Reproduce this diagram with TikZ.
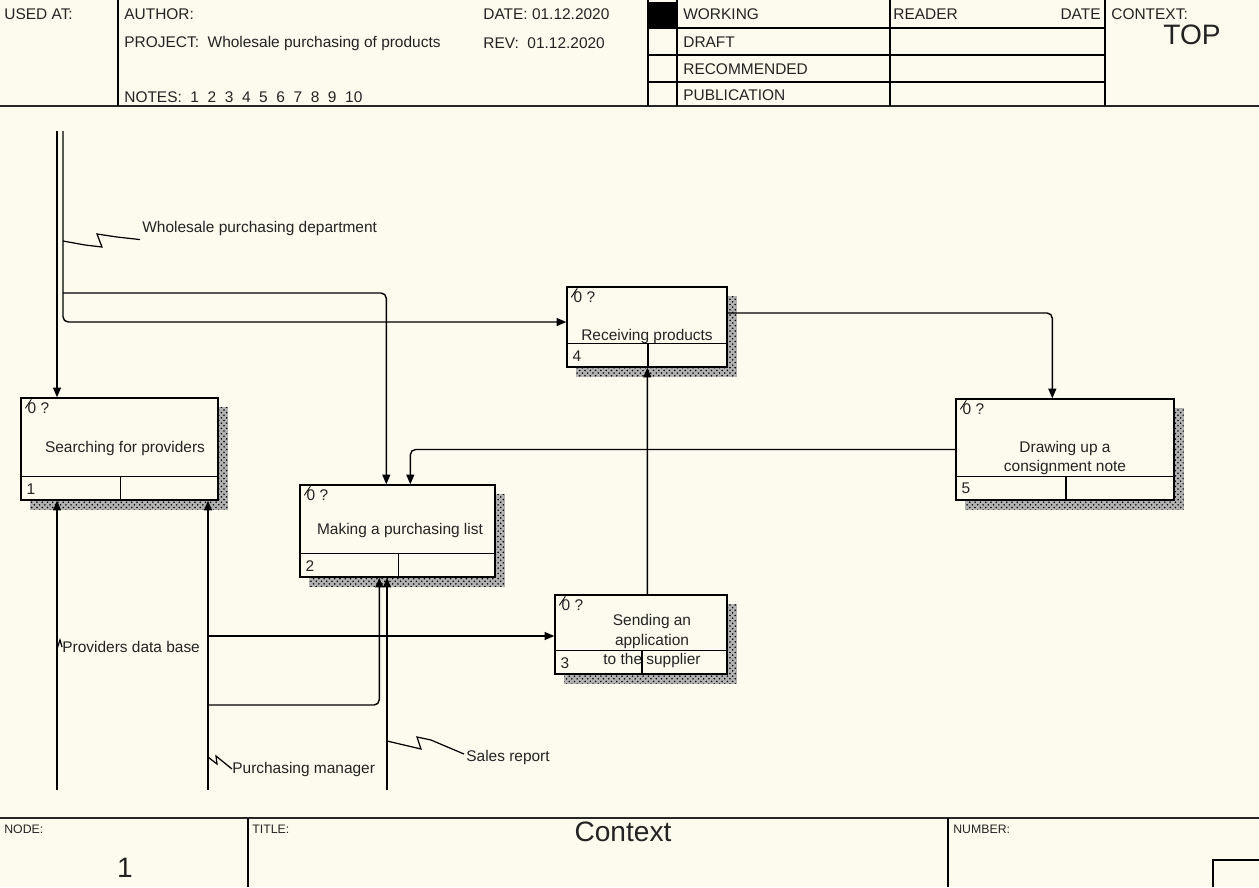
\documentclass[tikz,border=0pt]{standalone}
\usepackage{fontspec}
\setmainfont{Liberation Sans}
\usetikzlibrary{arrows.meta,patterns,calc}

\definecolor{paper}{RGB}{253,251,238}
\definecolor{ink}{RGB}{35,35,35}

\tikzset{
  every node/.style={font=\fontsize{8.8}{11}\selectfont, text=ink, inner sep=0pt},
  actbox/.style={draw, line width=0.8pt, fill=paper},
  shadow/.style={preaction={fill=black!30}, pattern=crosshatch dots, pattern color=black},
  frame/.style={line width=0.8pt},
  heavy/.style={line width=1.3pt, black!85},
  wire/.style={line width=0.8pt, rounded corners=3pt},
  flow/.style={wire, -{Triangle[length=5.5pt,width=4.5pt]}},
  squig/.style={line width=0.7pt},
  big/.style={font=\fontsize{16}{19}\selectfont},
  tiny/.style={font=\fontsize{7}{8}\selectfont},
}

\begin{document}
\begin{tikzpicture}[x=0.02cm, y=-0.02cm]
\useasboundingbox[fill=paper] (0,0) rectangle (1259,887);

% header frame
\draw[heavy] (0,106) -- (1259,106);
\draw[frame] (118,0) -- (118,106);
\draw[frame] (648,0) -- (648,106);
\draw[frame] (677,0) -- (677,106);
\draw[frame] (890,0) -- (890,106);
\draw[frame] (1105,0) -- (1105,106);
\foreach \y in {28,55,82}
  \draw[frame] (648,\y) -- (1105,\y);
\fill[black] (648,2) rectangle (677,28);

\node[anchor=west] (usedat) at (4,14) {USED AT:};
\node[anchor=west] (author) at (124,14) {AUTHOR:};
\node[anchor=west] (project) at (124,43) {PROJECT:\ \ Wholesale purchasing of products};
\node[anchor=west] (notes) at (124,97) {NOTES:\ \ 1\ \ 2\ \ 3\ \ 4\ \ 5\ \ 6\ \ 7\ \ 8\ \ 9\ \ 10};
\node[anchor=west] (date) at (483,14) {DATE: 01.12.2020};
\node[anchor=west] (rev) at (483,43) {REV:\ \ 01.12.2020};
\node[anchor=west] (working) at (683,14) {WORKING};
\node[anchor=west] (draft) at (683,42) {DRAFT};
\node[anchor=west] (recommended) at (683,69) {RECOMMENDED};
\node[anchor=west] (publication) at (683,95) {PUBLICATION};
\node[anchor=west] (reader) at (893,14) {READER};
\node[anchor=east] (rdate) at (1101,14) {DATE};
\node[anchor=west] (context) at (1111,14) {CONTEXT:};
\node[big] (top) at (1192,35) {TOP};

% footer frame
\draw[heavy] (0,818) -- (1259,818);
\draw[frame] (248,818) -- (248,887);
\draw[frame] (948,818) -- (948,887);
\draw[frame] (1213,887) -- (1213,860) -- (1259,860);

\node[tiny, anchor=west] (nodelbl) at (4,829) {NODE:};
\node[big] (nodenum) at (125,868) {1};
\node[tiny, anchor=west] (titlelbl) at (252,829) {TITLE:};
\node[big] (title) at (623,832) {Context};
\node[tiny, anchor=west] (numberlbl) at (953,829) {NUMBER:};

% activity boxes
\node[actbox, minimum width=3.94cm, minimum height=2.04cm] (b1) at (119.5,449) {};
\node[actbox, minimum width=3.9cm, minimum height=1.84cm] (b2) at (397.5,531) {};
\node[actbox, minimum width=3.44cm, minimum height=1.58cm] (b3) at (641,634.5) {};
\node[actbox, minimum width=3.2cm, minimum height=1.6cm] (b4) at (647,327) {};
\node[actbox, minimum width=4.36cm, minimum height=2.02cm] (b5) at (1065,449.5) {};

\foreach \b/\n in {b1/1,b2/2,b3/3,b4/4,b5/5} {
  \path[shadow] ($(\b.north east)+(0,10)$) rectangle ($(\b.south east)+(9,9)$);
  \path[shadow] ($(\b.south west)+(10,0)$) rectangle ($(\b.south east)+(9,9)$);
  \draw[frame] ($(\b.south west)+(0,-24)$) -- ($(\b.south east)+(0,-24)$);
  \draw[frame] ($(\b.south)+(1,0)$) -- ++(0,-24);
  \node[anchor=west] (n\n) at ($(\b.south west)+(6,-12)$) {\n};
  \node[anchor=north west] (c\n) at ($(\b.north west)+(7,5)$) {0 ?};
  \draw[line width=0.5pt] ($(\b.north west)+(5,11)$) -- ++(6,-9);
}

\node (t1) at (125,448) {Searching for providers};
\node (t2) at (400,530) {Making a purchasing list};
\node[align=center] (t3) at (652,641) {Sending an\\application\\to the supplier};
\node (t4) at (647,336) {Receiving products};
\node[align=center] (t5) at (1065,458) {Drawing up a\\consignment note};

% arrows
\coordinate (inA) at (57,131);
\coordinate (inB) at (63,131);
\coordinate (jA) at (63,293);
\coordinate (upA) at (57,790);
\coordinate (upB) at (208,790);
\coordinate (upC) at (387,790);
\coordinate (jB) at (208,636);
\coordinate (jC) at (208,705);

\draw[flow] (inA) -- (inA |- b1.north);
\draw[flow] (inB) |- ($(b4.west)+(0,-5)$);
\draw[flow] (jA) -| ($(b2.north west)+(87,0)$);
\draw[flow] ($(b4.east)+(0,-14)$) -| ($(b5.north west)+(97,0)$);
\draw[flow] (b5.west) -| ($(b2.north west)+(111,0)$);
\draw[flow] ($(b3.north west)+(93,0)$) -- ($(b4.south west)+(81,0)$);
\draw[flow] (upA) -- (upA |- b1.south);
\draw[flow] (upB) -- (upB |- b1.south);
\draw[flow] (jB) -- (jB -| b3.west);
\draw[flow] (jC) -| ($(b2.south west)+(80,0)$);
\draw[flow] (upC) -- (upC |- b2.south);

% arrow labels
\coordinate (sA) at (63,241);
\node[anchor=west] (lA) at (142,228) {Wholesale purchasing department};
\draw[squig] (sA) -- (85,245) -- (102,247) -- (97,234) -- (117,237) -- ($(lA.south west)+(-2,4)$);

\coordinate (sB) at (57,649);
\node[anchor=west] (lB) at (62,647) {Providers data base};
\draw[squig] (sB) -- ++(3,-9) -- (lB.west);

\coordinate (sC) at (208,757);
\node[anchor=west] (lC) at (232,769) {Purchasing manager};
\draw[squig] (sC) -- (217,764) -- (216,756) -- (lC.west);

\coordinate (sD) at (387,741);
\node[anchor=west] (lD) at (466,757) {Sales report};
\draw[squig] (sD) -- (421,749) -- (417,737) -- (431,740) -- ($(lD.west)+(-2,-3)$);
\end{tikzpicture}
\end{document}
